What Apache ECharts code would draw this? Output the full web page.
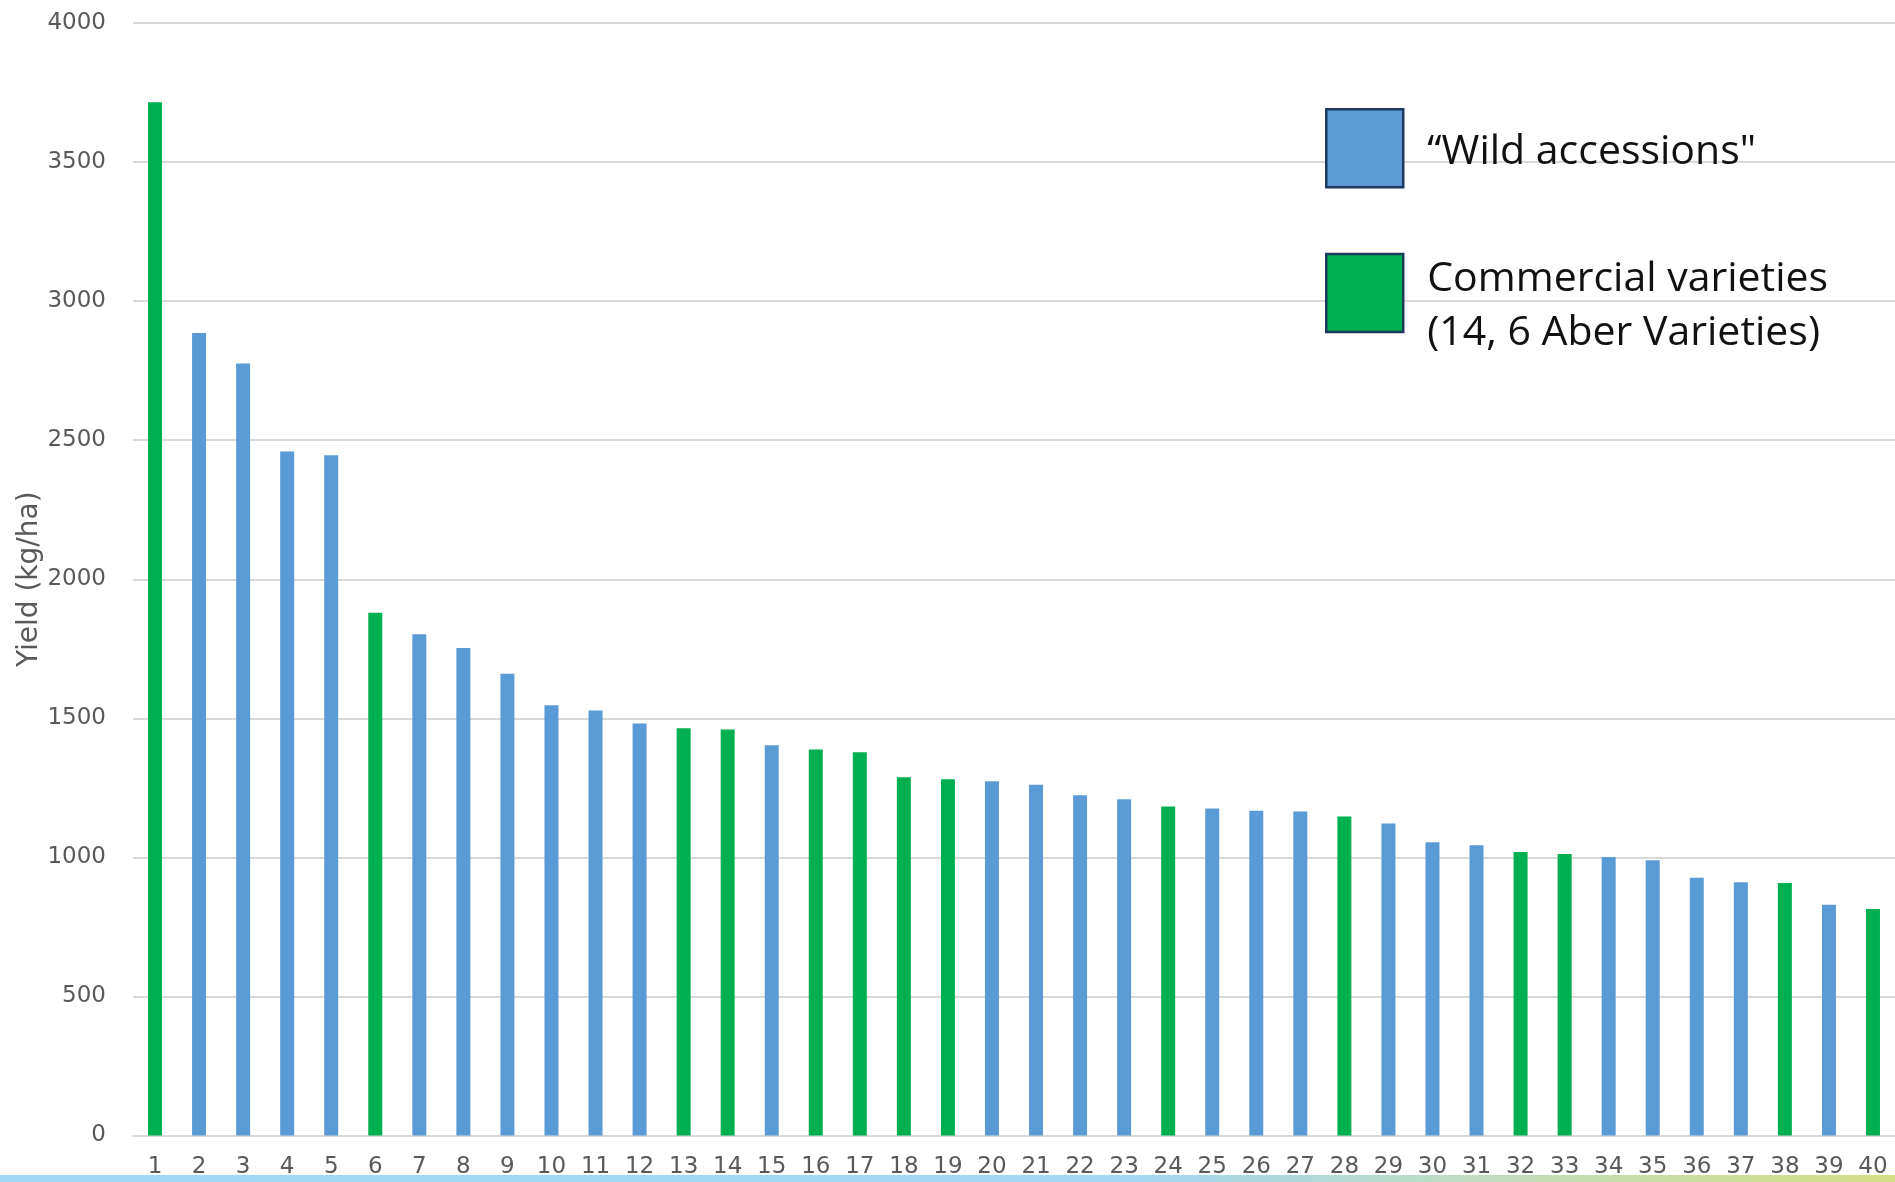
<!DOCTYPE html>
<html>
<head>
<meta charset="utf-8">
<script src="https://cdn.jsdelivr.net/npm/echarts@6/dist/echarts.min.js"></script>
<style>
html,body{margin:0;padding:0;background:#fff;}
#chart{width:1895px;height:1182px;}
</style>
</head>
<body>
<div id="chart"></div>
<script>
const categories = ['1','2','3','4','5','6','7','8','9','10','11','12','13','14','15','16','17','18','19','20','21','22','23','24','25','26','27','28','29','30','31','32','33','34','35','36','37','38','39','40'];
const yields = [3715, 2885, 2776, 2459, 2446, 1880, 1802, 1753, 1660, 1547, 1528, 1481, 1464, 1460, 1403, 1388, 1378, 1288, 1281, 1274, 1261, 1223, 1209, 1183, 1176, 1168, 1165, 1147, 1122, 1054, 1044, 1019, 1012, 1001, 990, 927, 911, 908, 830, 814];
const groups = ['C','W','W','W','W','C','W','W','W','W','W','W','C','C','W','C','C','C','C','W','W','W','W','C','W','W','W','C','W','W','W','C','C','W','W','W','W','C','W','C'];
const seriesNames = ['\u201cWild accessions"', 'Commercial varieties\n(14, 6 Aber Varieties)'];
const yTicks = {min: 0, max: 4000, interval: 500};

const wild = yields.map((v, i) => groups[i] === 'W' ? v : '-');
const commercial = yields.map((v, i) => groups[i] === 'C' ? v : '-');

const chart = echarts.init(document.getElementById('chart'));
const tickFont = 'DejaVu Sans';
const legendText = {fontFamily: 'Open Sans', fontSize: 41, color: '#111111', lineHeight: 54, padding: [0, 0, 0, 19]};
const legendBase = {
  orient: 'vertical',
  left: 1325,
  padding: 0,
  itemWidth: 77,
  selectedMode: false,
  itemStyle: {borderColor: '#1f3a5c', borderWidth: 2.5},
  textStyle: legendText
};
chart.setOption({
  animation: false,
  backgroundColor: '#ffffff',
  grid: {left: 133, right: 0, top: 23, bottom: 46.5, outerBoundsMode: 'none'},
  legend: [
    Object.assign({}, legendBase, {
      top: 108,
      itemHeight: 86,
      icon: 'path://M0,0L77,0L77,78L0,78ZM0,86',
      data: [seriesNames[0]]
    }),
    Object.assign({}, legendBase, {
      top: 252,
      itemHeight: 104,
      icon: 'path://M0,0L77,0L77,78L0,78ZM0,104',
      data: [seriesNames[1]]
    })
  ],
  xAxis: {
    type: 'category',
    data: categories,
    axisLine: {show: true, lineStyle: {color: '#d9d9d9', width: 2}},
    axisTick: {show: false},
    axisLabel: {fontFamily: tickFont, fontSize: 23, color: '#595959', margin: 20, interval: 0}
  },
  yAxis: {
    type: 'value',
    min: yTicks.min,
    max: yTicks.max,
    interval: yTicks.interval,
    name: 'Yield (kg/ha)',
    nameLocation: 'middle',
    nameRotate: 90,
    nameGap: 89,
    nameMoveOverlap: false,
    nameTextStyle: {fontFamily: tickFont, fontSize: 28, color: '#595959'},
    axisLine: {show: false},
    axisTick: {show: false},
    axisLabel: {fontFamily: tickFont, fontSize: 23, color: '#595959', margin: 27, formatter: v => String(v)},
    splitLine: {lineStyle: {color: '#d9d9d9', width: 2}}
  },
  series: [
    {
      name: seriesNames[0],
      type: 'bar',
      stack: 'yield',
      data: wild,
      barWidth: 14,
      itemStyle: {color: '#5b9bd5'}
    },
    {
      name: seriesNames[1],
      type: 'bar',
      stack: 'yield',
      data: commercial,
      barWidth: 14,
      itemStyle: {color: '#00b050'}
    }
  ],
  graphic: [
    {
      type: 'rect',
      left: 0,
      bottom: 0,
      z: -10,
      silent: true,
      shape: {width: 1895, height: 7},
      style: {
        fill: new echarts.graphic.LinearGradient(0, 0, 1, 0, [
          {offset: 0, color: '#a0d7f4'},
          {offset: 0.6, color: '#a3d7f2'},
          {offset: 0.72, color: '#b5dad0'},
          {offset: 0.82, color: '#c3ddb3'},
          {offset: 1, color: '#d5df85'}
        ])
      }
    }
  ]
});
</script>
</body>
</html>
